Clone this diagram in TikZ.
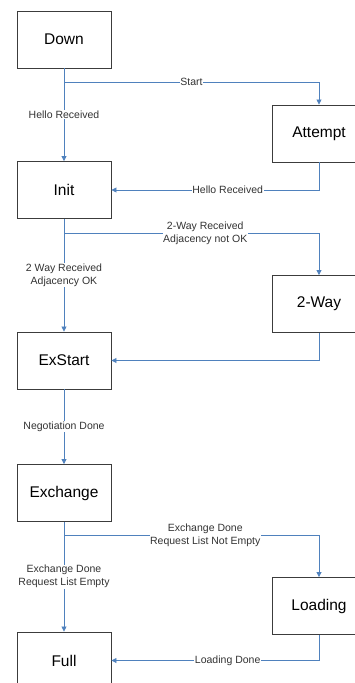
\documentclass[tikz,border=0pt]{standalone}
\usepackage{fontspec}
\setmainfont{Liberation Sans}
\usetikzlibrary{arrows.meta}

\definecolor{flowblue}{RGB}{79,129,189}
\definecolor{boxgray}{RGB}{60,60,60}

\tikzset{
	state/.style={draw=boxgray, line width=0.9pt, minimum width=94pt, minimum height=57pt, inner sep=0pt, font=\fontsize{15.5}{18}\selectfont},
	trans/.style={draw=flowblue, line width=0.8pt, -{Triangle[width=5pt,length=5pt]}},
	lbl/.style={fill=white, inner sep=0.6pt, align=center, text=black!80, font=\fontsize{10.5}{13}\selectfont},
}

\begin{document}
\begin{tikzpicture}[x=1pt,y=-1pt]
		\useasboundingbox (0,0) rectangle (355,683);
		\clip (0,0) rectangle (355,683);
		
		% States, left column
		\node[state] (down) at (64,39.5) {Down};
		\node[state] (init) at (64,190) {Init};
		\node[state] (exstart) at (64,360.5) {ExStart};
		\node[state] (exchange) at (64,493) {Exchange};
		\node[state] (full) at (64,660.5) {Full};
		
		% States, right column
		\node[state] (attempt) at (319,133.5) {Attempt};
		\node[state] (twoway) at (319,304) {2-Way};
		\node[state] (loading) at (319,606) {Loading};
		
		% Branch points
		\coordinate (splitdown) at (64,82);
		\coordinate (splitinit) at (64,233);
		\coordinate (splitexch) at (64,535);
		
		% Transitions
		\draw[trans] (down) -- node[lbl] {Hello Received} (init);
		\draw[trans] (splitdown) -| node[lbl,pos=0.25] {Start} (attempt);
		\draw[trans] (attempt) |- node[lbl,pos=0.72] {Hello Received} (init);
		
		\draw[trans] (init) -- node[lbl] {2 Way Received\\Adjacency OK} (exstart);
		\draw[trans] (splitinit) -| node[lbl,pos=0.277] {2-Way Received\\Adjacency not OK} (twoway);
		\draw[trans] (twoway) |- (exstart);
		
		\draw[trans] (exstart) -- node[lbl] {Negotiation Done} (exchange);
		
		\draw[trans] (exchange) -- node[lbl] {Exchange Done\\Request List Empty} (full);
		\draw[trans] (splitexch) -| node[lbl,pos=0.277] {Exchange Done\\Request List Not Empty} (loading);
		\draw[trans] (loading) |- node[lbl,pos=0.72] {Loading Done} (full);
	\end{tikzpicture}
\end{document}
